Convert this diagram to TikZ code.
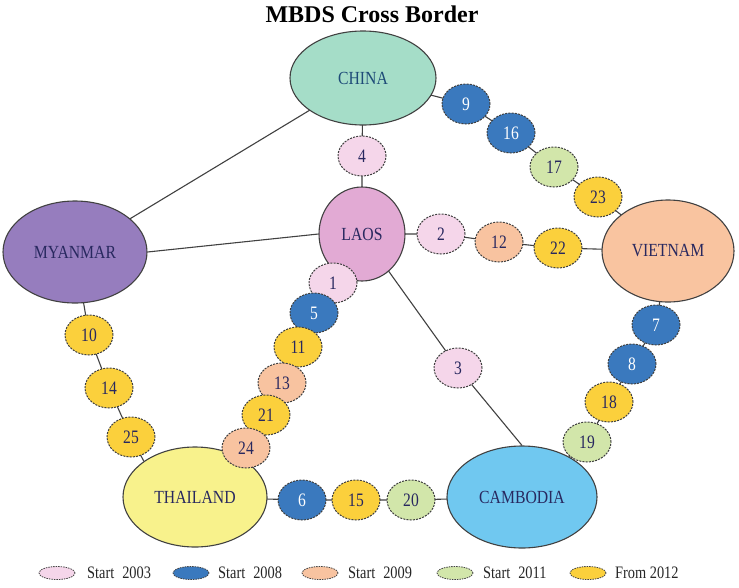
\documentclass[tikz,border=0pt]{standalone}
\usepackage{fontspec}
\setmainfont{Liberation Serif}
\newfontfamily\condA[FakeStretch=0.85]{Liberation Serif}
\newfontfamily\condB[FakeStretch=0.82]{Liberation Serif}
\usetikzlibrary{shapes.geometric}
\pgfdeclarelayer{bg}
\pgfsetlayers{bg,main}
\definecolor{cChina}{RGB}{165,221,200}
\definecolor{cLaos}{RGB}{226,170,212}
\definecolor{cMyan}{RGB}{150,125,190}
\definecolor{cViet}{RGB}{249,196,160}
\definecolor{cThai}{RGB}{248,242,140}
\definecolor{cCamb}{RGB}{112,200,240}
\definecolor{yA}{RGB}{245,214,234}
\definecolor{yB}{RGB}{58,121,190}
\definecolor{yC}{RGB}{248,195,160}
\definecolor{yD}{RGB}{210,230,170}
\definecolor{yE}{RGB}{251,208,60}
\definecolor{txt}{RGB}{40,40,95}
\definecolor{edgec}{RGB}{65,65,65}
\tikzset{
  country/.style={ellipse, draw=edgec, line width=1.1pt, inner sep=0pt, text=txt,
    font=\condA\fontsize{18.5}{18.5}\selectfont},
  yr/.style={ellipse, draw=edgec, line width=1pt, dash pattern=on 2pt off 1.2pt,
    minimum width=48pt, minimum height=40pt, inner sep=0pt, text=txt,
    font=\condB\fontsize{19}{19}\selectfont},
  yrA/.style={yr, fill=yA},
  yrB/.style={yr, fill=yB, text=white},
  yrC/.style={yr, fill=yC},
  yrD/.style={yr, fill=yD},
  yrE/.style={yr, fill=yE},
  lgell/.style={ellipse, draw=edgec, line width=0.8pt, dash pattern=on 1.5pt off 1pt,
    minimum width=36pt, minimum height=13pt, inner sep=0pt},
  lgtxt/.style={anchor=west, inner sep=0pt, text=black!85,
    font=\condB\fontsize{17.5}{17.5}\selectfont},
  link/.style={draw=edgec, line width=1.1pt}
}
\begin{document}
\begin{tikzpicture}[x=1pt,y=-1pt]
\useasboundingbox (0,0) rectangle (739,587);
% title
\node[font=\bfseries\fontsize{24}{24}\selectfont, text=black] (title) at (372,14) {MBDS Cross Border};
% countries
\node[country, fill=cChina, minimum width=146pt, minimum height=94pt, text={rgb,255:red,30;green,75;blue,120}] (china) at (363,78) {CHINA};
\node[country, fill=cLaos, minimum width=86pt, minimum height=94pt] (laos) at (362,234) {LAOS};
\node[country, fill=cMyan, minimum width=144pt, minimum height=102pt] (myan) at (75,252) {MYANMAR};
\node[country, fill=cViet, minimum width=132pt, minimum height=102pt] (viet) at (668,251) {VIETNAM};
\node[country, fill=cThai, minimum width=144pt, minimum height=100pt] (thai) at (195,497) {THAILAND};
\node[country, fill=cCamb, minimum width=150pt, minimum height=102pt] (camb) at (522,497) {CAMBODIA};
% year nodes
\node[yrA] (n4) at (362,156) {4};
\node[yrB] (n9) at (466,104) {9};
\node[yrB] (n16) at (511,133) {16};
\node[yrD] (n17) at (554,167) {17};
\node[yrE] (n23) at (598,197) {23};
\node[yrA] (n2) at (441,234) {2};
\node[yrC] (n12) at (499,242) {12};
\node[yrE] (n22) at (558,248) {22};
\node[yrB] (n7) at (656,325) {7};
\node[yrB] (n8) at (632,364) {8};
\node[yrE] (n18) at (609,402) {18};
\node[yrD] (n19) at (587,442) {19};
\node[yrA] (n3) at (458,368) {3};
\node[yrA] (n1) at (333,283) {1};
\node[yrB] (n5) at (314,313) {5};
\node[yrE] (n11) at (298,347) {11};
\node[yrC] (n13) at (282,383) {13};
\node[yrE] (n21) at (266,415) {21};
\node[yrC] (n24) at (246,448) {24};
\node[yrE] (n10) at (89,335) {10};
\node[yrE] (n14) at (109,388) {14};
\node[yrE] (n25) at (131,437) {25};
\node[yrB] (n6) at (302,500) {6};
\node[yrE] (n15) at (356,500) {15};
\node[yrD] (n20) at (411,500) {20};
% connectors
\begin{pgfonlayer}{bg}
\draw[link] (myan.center) -- (china.center);
\draw[link] (myan.east) -- (laos.west);
\draw[link] (china.center) -- (n4.center) -- (laos.center);
\draw[link] (china.center) -- (n9.center) -- (n16.center) -- (n17.center) -- (n23.center) -- (viet.center);
\draw[link] (laos.center) -- (n2.center) -- (n12.center) -- (n22.center) -- (viet.center);
\draw[link] (laos.center) -- (n3.center) -- (camb.north);
\draw[link] (laos.center) -- (n1.center) -- (n5.center) -- (n11.center) -- (n13.center) -- (n21.center) -- (n24.center) -- (thai.center);
\draw[link] (viet.center) -- (n7.center) -- (n8.center) -- (n18.center) -- (n19.center) -- (camb.center);
\draw[link] (myan.center) -- (n10.center) -- (n14.center) -- (n25.center) -- (thai.145);
\draw[link] (thai.center) -- (n6.center) -- (n15.center) -- (n20.center) -- (camb.center);
\end{pgfonlayer}
% legend
\node[lgell, fill=yA] (l1) at (57,573) {};
\node[lgtxt] (t1) at (87,573) {Start\hspace{0.25em} 2003};
\node[lgell, fill=yB] (l2) at (191,573) {};
\node[lgtxt] (t2) at (218,573) {Start\hspace{0.25em} 2008};
\node[lgell, fill=yC] (l3) at (320,573) {};
\node[lgtxt] (t3) at (348,573) {Start\hspace{0.25em} 2009};
\node[lgell, fill=yD] (l4) at (455,573) {};
\node[lgtxt] (t4) at (483,573) {Start\hspace{0.25em} 2011};
\node[lgell, fill=yE] (l5) at (588,573) {};
\node[lgtxt] (t5) at (615,573) {From 2012};
\end{tikzpicture}
\end{document}
